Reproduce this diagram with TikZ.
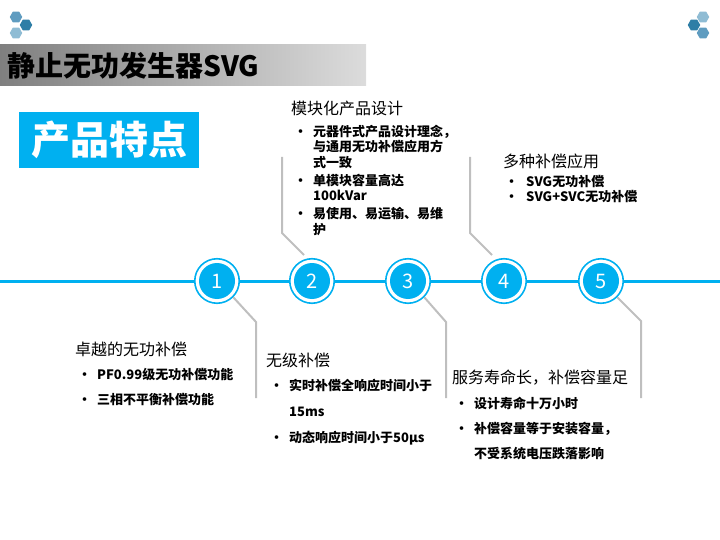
\documentclass[tikz,border=0pt]{standalone}
\usepackage{fontspec}
\setmainfont{Noto Sans CJK SC}
\usetikzlibrary{
  positioning,
  shapes.geometric
}
\definecolor{svgcyan}{HTML}{00B0F0}
\definecolor{wire}{HTML}{BFBFBF}
\definecolor{hexdark}{HTML}{2E7EA6}
\definecolor{hexmid}{HTML}{5F9CC0}
\definecolor{hexlight}{HTML}{8FBCD4}
\definecolor{bargray}{HTML}{7F7F7F}
\definecolor{barlight}{HTML}{DCDCDC}
\newcommand{\itm}{\makebox[19pt][l]{\textbullet}}
\newcommand{\cnt}{\hspace*{19pt}}

\begin{document}
\begin{tikzpicture}[
  x=1pt, y=-1pt,
  hexa/.style={regular polygon, regular polygon sides=6, minimum size=12.5pt,
               inner sep=0pt, draw=none},
  ring/.style={circle, draw=svgcyan, line width=1.6pt, fill=white,
               minimum size=44.5pt, inner sep=0pt},
  disc/.style={circle, fill=svgcyan, minimum size=36pt, inner sep=0pt,
               text=white, font=\fontsize{20}{20}\selectfont},
  head/.style={anchor=base west, inner sep=0pt, font=\fontsize{16}{16}\selectfont},
  lst/.style={anchor=base west, inner sep=0pt, align=left},
  conn/.style={draw=wire, line width=2pt},
  axis/.style={draw=svgcyan, line width=3pt}
]
  \useasboundingbox (0,0) rectangle (720,540);

  % Corner marks
  \node[hexa, fill=hexmid] (hx1) at (16,17) {};
  \node[hexa, fill=hexdark] (hx2) at (26,25) {};
  \node[hexa, fill=hexlight] (hx3) at (16,33) {};
  \node[hexa, fill=hexlight] (hx4) at (703,17) {};
  \node[hexa, fill=hexdark] (hx5) at (694,25) {};
  \node[hexa, fill=hexmid] (hx6) at (703,33) {};

  % Title
  \shade[left color=bargray, right color=barlight] (0,45) rectangle (366,86);
  \node[anchor=base west, inner sep=0pt, font=\bfseries\fontsize{28}{28}\selectfont]
    (title) at (7,77) {静止无功发生器SVG};

  \node[fill=svgcyan, minimum width=180pt, minimum height=56pt, inner sep=0pt,
        text=white, font=\bfseries\fontsize{39}{39}\selectfont]
    (tag) at (109,140) {产品特点};

  % Timeline
  \coordinate (lineL) at (0,281);
  \coordinate (lineR) at (720,281);
  \draw[axis] (lineL) -- (lineR);
  \foreach \i/\x in {1/217, 2/312, 3/408, 4/504, 5/601}{
    \node[ring] (c\i) at (\x,281) {};
    \node[disc] (n\i) at (c\i) {\i};
  }

  % Leaders
  \coordinate (k1) at (256,322);  \coordinate (e1) at (256,398);
  \coordinate (k3) at (446,322);  \coordinate (e3) at (446,398);
  \coordinate (k5) at (641,321);  \coordinate (e5) at (641,398);
  \coordinate (s2) at (304,255);  \coordinate (k2) at (282,233);  \coordinate (e2) at (282,157);
  \coordinate (s4) at (492,255);  \coordinate (k4) at (470,233);  \coordinate (e4) at (470,157);
  \draw[conn] (c1.south east) -- (k1) -- (e1);
  \draw[conn] (c3.south east) -- (k3) -- (e3);
  \draw[conn] (c5.south east) -- (k5) -- (e5);
  \draw[conn] (s2) -- (k2) -- (e2);
  \draw[conn] (s4) -- (k4) -- (e4);

  % Features above the line (lists sit on their last line)
  \node[head] (h2) at (291,115) {模块化产品设计};
  \node[lst, font=\bfseries\fontsize{13}{15.8}\selectfont] (l2) at (294,234) {
    \itm 元器件式产品设计理念，\\
    \cnt 与通用无功补偿应用方\\
    \cnt 式一致\\[1.5pt]
    \itm 单模块容量高达\\
    \cnt 100kVar\\[1.5pt]
    \itm 易使用、易运输、易维\\
    \cnt 护
  };

  \node[head] (h4) at (503,168) {多种补偿应用};
  \node[lst, font=\bfseries\fontsize{13}{15}\selectfont] (l4) at (505,202) {
    \makebox[21pt][l]{\textbullet}SVG无功补偿\\
    \makebox[21pt][l]{\textbullet}SVG+SVC无功补偿
  };

  % Features below the line
  \node[head] (h1) at (75,355) {卓越的无功补偿};
  \node[lst, font=\bfseries\fontsize{13}{24.5}\selectfont] (l1) at (78,404) {
    \itm PF0.99级无功补偿功能\\
    \itm 三相不平衡补偿功能
  };

  \node[head] (h3) at (266,366) {无级补偿};
  \node[lst, font=\bfseries\fontsize{13}{26}\selectfont] (l3) at (270,442) {
    \itm 实时补偿全响应时间小于\\
    \cnt 15ms\\
    \itm 动态响应时间小于50µs
  };

  \node[head] (h5) at (452,383) {服务寿命长，补偿容量足};
  \node[lst, font=\bfseries\fontsize{13}{25}\selectfont] (l5) at (455,458) {
    \itm 设计寿命十万小时\\
    \itm 补偿容量等于安装容量，\\
    \cnt 不受系统电压跌落影响
  };
\end{tikzpicture}
\end{document}
